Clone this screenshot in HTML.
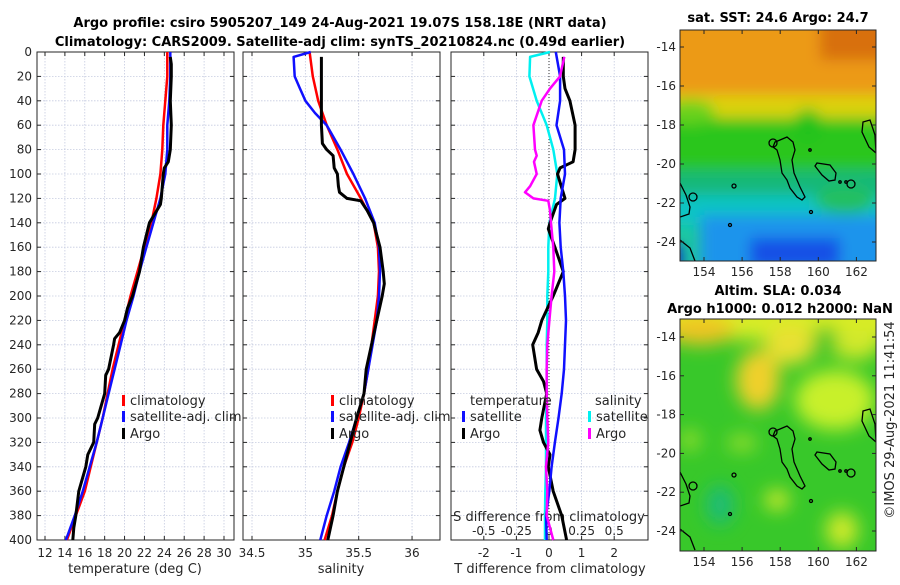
<!DOCTYPE html>
<html><head><meta charset="utf-8"><style>
html,body{margin:0;padding:0;background:#fff;}
svg text{font-family:"DejaVu Sans","Liberation Sans",sans-serif;}
</style></head><body>
<svg id="c" width="900" height="580" viewBox="0 0 900 580" xmlns="http://www.w3.org/2000/svg">
<defs>
<filter id="blur1" x="-20%" y="-20%" width="140%" height="140%"><feGaussianBlur stdDeviation="7"/></filter>
<filter id="blur2" x="-20%" y="-20%" width="140%" height="140%"><feGaussianBlur stdDeviation="9"/></filter>
<clipPath id="clipM1"><rect x="680" y="30" width="196" height="231"/></clipPath>
<clipPath id="clipM2"><rect x="680" y="319" width="196" height="232"/></clipPath>
</defs>
</svg>
<script>
// ---- data ----
const depths20 = [0,20,40,60,80,100,120,140,160,180,200,220,240,260,280,300,320,340,360,380,400];
const tempClim = [24.3,24.3,24.1,23.9,23.8,23.6,23.2,22.7,22.0,21.3,20.6,20.0,19.4,18.8,18.3,17.8,17.2,16.6,16.0,15.1,14.2];
const tempSat  = [24.6,24.6,24.5,24.3,24.3,24.1,23.6,22.9,22.2,21.5,20.9,20.2,19.6,19.0,18.4,17.8,17.2,16.5,15.8,15.0,14.1];
const argoTDepth = [4,10,20,40,60,80,90,95,100,120,125,140,160,180,200,210,220,230,235,240,260,265,280,300,305,320,330,340,360,380,390,400];
const argoTemp   = [24.6,24.7,24.7,24.6,24.7,24.6,24.4,24.0,23.9,23.7,23.6,22.5,21.9,21.5,20.8,20.3,20.0,19.5,19.0,18.9,18.4,18.1,18.0,17.3,17.0,16.9,16.3,16.1,15.4,15.1,14.9,14.8];

const salClim = [35.04,35.07,35.12,35.2,35.3,35.39,35.52,35.64,35.68,35.69,35.68,35.65,35.62,35.59,35.55,35.5,35.44,35.36,35.3,35.25,35.18];
const salSatDepth = [0,4,20,30,40,50,60,80,100,120,140,160,180,200,220,240,260,280,300,320,340,360,380,400];
const salSat = [35.05,34.89,34.9,34.95,35.0,35.09,35.2,35.33,35.45,35.56,35.65,35.69,35.7,35.69,35.67,35.63,35.59,35.55,35.48,35.41,35.33,35.27,35.2,35.14];
const argoSDepth = [4,40,60,75,80,85,95,100,110,115,120,122,130,140,160,180,190,200,220,240,260,280,300,320,340,360,380,400];
const argoSal = [35.15,35.15,35.15,35.16,35.2,35.26,35.27,35.3,35.31,35.32,35.39,35.52,35.58,35.64,35.7,35.73,35.74,35.72,35.67,35.62,35.57,35.55,35.48,35.42,35.36,35.3,35.26,35.21];

const tDiffSat = [0.21,0.34,0.34,0.23,0.46,0.49,0.36,0.32,0.36,0.44,0.49,0.52,0.49,0.46,0.39,0.29,0.18,0.08,0.01,-0.09,-0.07];
const tDiffArgoDepth = [4,20,30,40,60,80,90,95,100,120,125,140,145,160,180,200,220,230,240,260,270,280,300,310,320,330,340,360,380,400];
const tDiffArgo = [0.44,0.44,0.49,0.64,0.80,0.80,0.74,0.34,0.26,0.49,0.23,0.03,-0.02,0.18,0.44,0.13,-0.22,-0.33,-0.50,-0.38,-0.17,-0.07,-0.22,-0.28,-0.17,0.03,-0.02,0.13,0.39,0.54];
const sDiffSatDepth = [0,4,20,40,60,80,100,120,140,160,180,200,220,240,260,280,300,320,340,360,380,400];
const sDiffSat = [0.008,-0.145,-0.15,-0.094,-0.018,0.033,0.064,0.046,0.003,-0.005,-0.005,-0.013,-0.013,-0.018,-0.018,-0.018,-0.023,-0.023,-0.023,-0.028,-0.031,-0.031];
const sDiffArgoDepth = [4,20,30,40,60,80,85,90,100,110,115,120,122,130,140,160,180,200,220,240,260,280,300,320,340,360,380,400];
const sDiffArgo = [0.117,0.084,0.008,-0.056,-0.12,-0.107,-0.094,-0.115,-0.094,-0.145,-0.184,-0.12,-0.005,0.008,0.015,0.033,0.041,0.02,0.003,-0.013,-0.018,-0.018,-0.013,-0.005,-0.023,-0.013,-0.018,0.033];

const depthTicks = [0,20,40,60,80,100,120,140,160,180,200,220,240,260,280,300,320,340,360,380,400];
const tempTicks = [12,14,16,18,20,22,24,26,28,30];
const salTicks = [34.5,35,35.5,36];
const salTickLabels = ["34.5","35","35.5","36"];
const tDiffTicks = [-2,-1,0,1,2];
const sDiffTicks = [-0.5,-0.25,0,0.25,0.5];
const sDiffTickLabels = ["-0.5","-0.25","0","0.25","0.5"];
const lonTicks = [154,156,158,160,162];
const latTicks = [-14,-16,-18,-20,-22,-24];

// ---- scales ----
const yD = d => 52 + d*1.22;
const xT = v => 45 + (v-12)*9.944;
const xS = v => 252 + (v-34.5)*106.7;
const xTD = v => 549 + v*32.6;
const xSD = v => 549 + v*130.4;
const lonX = lon => 704 + (lon-154)*19.05;
const latY1 = lat => 47 + (-14-lat)*19.5;
const latY2 = lat => 337 + (-14-lat)*19.4;

const svg = document.getElementById('c');
const NS = 'http://www.w3.org/2000/svg';
function mk(tag, attrs, parent){
  const e = document.createElementNS(NS, tag);
  for (const k in attrs) e.setAttribute(k, attrs[k]);
  (parent||svg).appendChild(e);
  return e;
}
function txt(x,y,s,opt){
  const t = mk('text', Object.assign({x:x,y:y,'font-size':12,fill:'#262626'},opt||{}));
  t.textContent = s;
  return t;
}

const panels = [
  {name:'temperature-panel', x0:37, x1:234},
  {name:'salinity-panel', x0:243, x1:440},
  {name:'difference-panel', x0:451, x1:648}
];
const y0 = 52, y1 = 540;

// grids + frames
panels.forEach((p,pi)=>{
  const g = mk('g',{});
  
  
  mk('rect',{x:p.x0,y:y0,width:p.x1-p.x0,height:y1-y0,fill:'#fff'},g);
  depthTicks.forEach(d=>{
    mk('line',{x1:p.x0,x2:p.x1,y1:yD(d),y2:yD(d),stroke:'#c5cbe0','stroke-width':0.8,'stroke-dasharray':'1.5,1.5'},g);
    mk('line',{x1:p.x0,x2:p.x0+4,y1:yD(d),y2:yD(d),stroke:'#262626','stroke-width':1},g);
    mk('line',{x1:p.x1-4,x2:p.x1,y1:yD(d),y2:yD(d),stroke:'#262626','stroke-width':1},g);
  });
  let xt = pi==0 ? tempTicks.map(xT) : pi==1 ? salTicks.map(xS) : tDiffTicks.map(xTD);
  xt.forEach(x=>{
    mk('line',{x1:x,x2:x,y1:y0,y2:y1,stroke:'#c5cbe0','stroke-width':0.8,'stroke-dasharray':'1.5,1.5'},g);
    mk('line',{x1:x,x2:x,y1:y1,y2:y1-4,stroke:'#262626','stroke-width':1},g);
    mk('line',{x1:x,x2:x,y1:y0,y2:y0+4,stroke:'#262626','stroke-width':1},g);
  });
  mk('rect',{x:p.x0,y:y0,width:p.x1-p.x0,height:y1-y0,fill:'none',stroke:'#262626','stroke-width':1},g);
});

// y labels
depthTicks.forEach(d=>{
  const t = txt(32, yD(d)+4, String(d), {'text-anchor':'end'});
  
  
});
tempTicks.forEach(v=>{ const t = txt(xT(v), 557, String(v), {'text-anchor':'middle'});   });
salTicks.forEach((v,i)=>{ const t = txt(xS(v), 557, salTickLabels[i], {'text-anchor':'middle'});   });
tDiffTicks.forEach(v=>{ const t = txt(xTD(v), 557, String(v), {'text-anchor':'middle'});   });
sDiffTicks.forEach((v,i)=>{ const t = txt(xSD(v), 535, sDiffTickLabels[i], {'text-anchor':'middle'});   });

let t;
t = txt(135, 573, 'temperature (deg C)', {'text-anchor':'middle','font-size':13});
 
t = txt(341, 573, 'salinity', {'text-anchor':'middle','font-size':13});
 
t = txt(550, 573, 'T difference from climatology', {'text-anchor':'middle','font-size':13});
 
t = txt(549, 521, 'S difference from climatology', {'text-anchor':'middle','font-size':13});
 

t = txt(340, 27, 'Argo profile: csiro 5905207_149 24-Aug-2021 19.07S 158.18E (NRT data)', {'text-anchor':'middle','font-size':13,'font-weight':'bold',fill:'#000'});
 
t = txt(340, 46, 'Climatology: CARS2009. Satellite-adj clim: synTS_20210824.nc (0.49d earlier)', {'text-anchor':'middle','font-size':13,'font-weight':'bold',fill:'#000'});
 

// zero line in diff panel
const zl = mk('line',{x1:xTD(0),x2:xTD(0),y1:y0,y2:y1,stroke:'#333','stroke-width':1,'stroke-dasharray':'1,2'});



function line(xs, ds, xf, color, name, w){
  const pts = xs.map((v,i)=> xf(v).toFixed(1)+','+yD(ds[i]).toFixed(1)).join(' ');
  const pl = mk('polyline',{points:pts,fill:'none',stroke:color,'stroke-width':w||2.5,'stroke-linejoin':'round'});
  
  
}
line(tempClim, depths20, xT, '#ff0000', 'temperature-climatology-line');
line(tempSat, depths20, xT, '#1010ff', 'temperature-satellite-line');
line(argoTemp, argoTDepth, xT, '#000', 'temperature-argo-line', 3);
line(salClim, depths20, xS, '#ff0000', 'salinity-climatology-line');
line(salSat, salSatDepth, xS, '#1010ff', 'salinity-satellite-line');
line(argoSal, argoSDepth, xS, '#000', 'salinity-argo-line', 3);
line(sDiffSat, sDiffSatDepth, xSD, '#00f0f0', 'salinity-diff-satellite-line');
line(tDiffArgo, tDiffArgoDepth, xTD, '#000', 'temperature-diff-argo-line', 3);
line(tDiffSat, depths20, xTD, '#1010ff', 'temperature-diff-satellite-line');
line(sDiffArgo, sDiffArgoDepth, xSD, '#ff00ff', 'salinity-diff-argo-line');

// legends
function legend(x, y, color, label, name){
  const g = mk('g',{});
  
  
  mk('rect',{x:x,y:y-10,width:3,height:11,fill:color},g);
  const tt = document.createElementNS(NS,'text');
  tt.setAttribute('x', x+8); tt.setAttribute('y', y); tt.setAttribute('font-size', 13); tt.setAttribute('fill','#262626');
  tt.textContent = label; g.appendChild(tt);
}
legend(122, 405, '#ff0000', 'climatology', 'legend-entry-climatology');
legend(122, 421, '#1010ff', 'satellite-adj. clim', 'legend-entry-satellite');
legend(122, 438, '#000', 'Argo', 'legend-entry-argo');
legend(331, 405, '#ff0000', 'climatology', 'legend-entry-climatology');
legend(331, 421, '#1010ff', 'satellite-adj. clim', 'legend-entry-satellite');
legend(331, 438, '#000', 'Argo', 'legend-entry-argo');
t = txt(470, 405, 'temperature', {'font-size':13});  
t = txt(595, 405, 'salinity', {'font-size':13});  
legend(462, 421, '#1010ff', 'satellite', 'legend-entry-t-satellite');
legend(462, 438, '#000', 'Argo', 'legend-entry-t-argo');
legend(588, 421, '#00f0f0', 'satellite', 'legend-entry-s-satellite');
legend(588, 438, '#ff00ff', 'Argo', 'legend-entry-s-argo');

// ---- maps ----
function coast(g, dy){
  const paths = [
    'M780,140 L787,137 L793,142 L795,150 L792,160 L794,173 L800,187 L805,197 L802,200 L797,197 L790,188 L787,180 L782,173 L780,160 L777,150 L773,147 L775,142 Z',
    'M817,163 L830,165 L836,173 L835,180 L829,181 L822,175 L815,166 Z',
    'M863,122 L870,120 L875,135 L876,153 L869,147 L862,132 Z',
    'M680,183 L686,195 L690,207 L689,214 L680,217',
    'M680,240 L690,248 L695,261'
  ];
  paths.forEach(d=> mk('path',{d:d,fill:'none',stroke:'#000','stroke-width':1.3,transform:'translate(0,'+dy+')'},g));
  [[773,143,4],[693,197,4],[851,184,4],[734,186,2],[730,225,1.5],[811,212,1.5],[840,182,1.2],[846,182,1.2],[810,150,1.2]].forEach(c=>
    mk('circle',{cx:c[0],cy:c[1]+dy,r:c[2],fill:'none',stroke:'#000','stroke-width':1.3},g));
}

// map 1 SST
const m1 = mk('g',{'clip-path':'url(#clipM1)'});


mk('rect',{x:680,y:30,width:196,height:231,fill:'#1ec8a0'},m1);
const b1 = mk('g',{filter:'url(#blur1)'},m1);
mk('rect',{x:660,y:10,width:240,height:90,fill:'#ec9a12'},b1);
mk('rect',{x:820,y:10,width:80,height:50,fill:'#d8700e'},b1);
mk('rect',{x:660,y:95,width:240,height:30,fill:'#dcd20a'},b1);
mk('rect',{x:660,y:118,width:240,height:60,fill:'#2cc61c'},b1);
mk('ellipse',{cx:808,cy:125,rx:14,ry:16,fill:'#22c21a'},b1);
mk('ellipse',{cx:690,cy:112,rx:25,ry:12,fill:'#6ad21a'},b1);
mk('rect',{x:660,y:170,width:240,height:35,fill:'#16b878'},b1);
mk('rect',{x:660,y:195,width:240,height:30,fill:'#10c4c4'},b1);
mk('rect',{x:700,y:215,width:200,height:60,fill:'#1a94ec'},b1);
mk('rect',{x:750,y:238,width:90,height:30,fill:'#1450e6'},b1);
mk('rect',{x:660,y:245,width:22,height:25,fill:'#0a2cc0'},b1);
mk('ellipse',{cx:845,cy:200,rx:30,ry:14,fill:'#20c060'},b1);
coast(m1, 0);
mk('rect',{x:680,y:30,width:196,height:231,fill:'none',stroke:'#262626','stroke-width':1});

// map 2 SLA
const m2 = mk('g',{'clip-path':'url(#clipM2)'});


mk('rect',{x:680,y:319,width:196,height:232,fill:'#38c82a'},m2);
const b2 = mk('g',{filter:'url(#blur2)'},m2);
mk('rect',{x:660,y:300,width:240,height:40,fill:'#d8ec28'},b2);
mk('ellipse',{cx:700,cy:330,rx:35,ry:15,fill:'#f0c424'},b2);
mk('ellipse',{cx:758,cy:380,rx:22,ry:30,fill:'#f0d02a'},b2);
mk('ellipse',{cx:790,cy:345,rx:25,ry:20,fill:'#e8e030'},b2);
mk('ellipse',{cx:835,cy:400,rx:40,ry:30,fill:'#c8f02a'},b2);
mk('ellipse',{cx:855,cy:345,rx:25,ry:15,fill:'#d0e82a'},b2);
mk('ellipse',{cx:825,cy:340,rx:12,ry:14,fill:'#2cc42a'},b2);
mk('ellipse',{cx:720,cy:505,rx:14,ry:20,fill:'#1cbc78'},b2);
mk('ellipse',{cx:777,cy:500,rx:12,ry:10,fill:'#d8ec2a'},b2);
mk('ellipse',{cx:842,cy:530,rx:16,ry:18,fill:'#d0ea2a'},b2);
mk('ellipse',{cx:742,cy:443,rx:15,ry:8,fill:'#9ae02a'},b2);
mk('ellipse',{cx:690,cy:440,rx:10,ry:10,fill:'#9ae02a'},b2);
coast(m2, 289);
mk('rect',{x:680,y:319,width:196,height:232,fill:'none',stroke:'#262626','stroke-width':1});

// map ticks/labels
[[latY1,261,30,'sst'],[latY2,551,319,'sla']].forEach(([ly,bot,top,nm])=>{
  latTicks.forEach(lat=>{
    const yy = ly(lat);
    mk('line',{x1:680,x2:684,y1:yy,y2:yy,stroke:'#262626'});
    mk('line',{x1:872,x2:876,y1:yy,y2:yy,stroke:'#262626'});
    const tl = txt(676, yy+4, String(lat), {'text-anchor':'end'});
    
    
  });
  lonTicks.forEach(lon=>{
    const xx = lonX(lon);
    mk('line',{x1:xx,x2:xx,y1:bot,y2:bot-4,stroke:'#262626'});
    mk('line',{x1:xx,x2:xx,y1:top,y2:top+4,stroke:'#262626'});
    const tl = txt(xx, bot+15, String(lon), {'text-anchor':'middle'});
    
    
  });
});

t = txt(778, 22, 'sat. SST: 24.6 Argo: 24.7', {'text-anchor':'middle','font-size':13,'font-weight':'bold',fill:'#000'});
 
t = txt(778, 295, 'Altim. SLA: 0.034', {'text-anchor':'middle','font-size':13,'font-weight':'bold',fill:'#000'});
 
t = txt(780, 313, 'Argo h1000: 0.012 h2000: NaN', {'text-anchor':'middle','font-size':13,'font-weight':'bold',fill:'#000'});
 
t = txt(0, 0, '©IMOS 29-Aug-2021 11:41:54', {'text-anchor':'middle','font-size':13,transform:'translate(894,420) rotate(-90)'});
 
</script>
</body></html>
